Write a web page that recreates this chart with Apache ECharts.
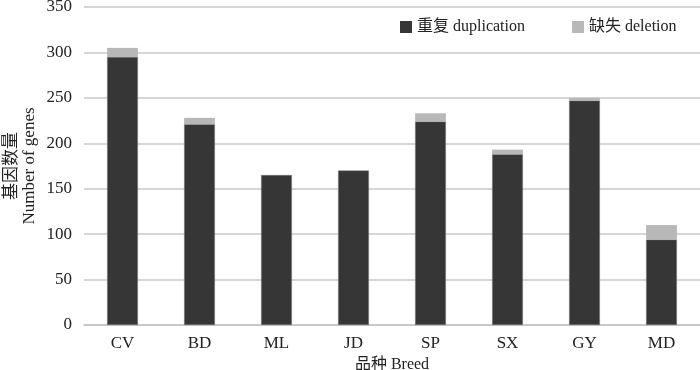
<!DOCTYPE html>
<html>
<head>
<meta charset="utf-8">
<script src="https://cdn.jsdelivr.net/npm/echarts@6/dist/echarts.min.js"></script>
<style>
  html, body { margin: 0; padding: 0; background: #fff; }
  #chart { width: 700px; height: 370px; }
</style>
</head>
<body>
<div id="chart"></div>
<script>
// 品种
const breeds = ['CV', 'BD', 'ML', 'JD', 'SP', 'SX', 'GY', 'MD'];
// 重复 duplication
const duplication = [295, 221, 165, 170, 224, 188, 247, 94];
// 缺失 deletion
const deletion = [10, 7, 0, 0, 9, 5, 3, 16];

const serif = '"Liberation Serif", "Noto Sans CJK SC", serif';

const myChart = echarts.init(document.getElementById('chart'));
myChart.setOption({
  animation: false,
  textStyle: { fontFamily: serif },
  grid: { left: 84, right: 0, top: 7, bottom: 45, containLabel: false, outerBoundsMode: 'none' },
  legend: {
    top: 14,
    left: 395,
    itemWidth: 12,
    itemHeight: 12,
    itemGap: 47,
    icon: 'rect',
    itemStyle: { borderWidth: 0 },
    textStyle: { fontFamily: serif, fontSize: 16, color: '#222' },
    data: ['重复 duplication', '缺失 deletion'],
  },
  xAxis: {
    type: 'category',
    data: breeds,
    name: '品种 Breed',
    nameLocation: 'middle',
    nameGap: 31,
    nameTextStyle: { fontFamily: serif, fontSize: 16, color: '#222' },
    axisLine: { lineStyle: { color: '#c4c4c4', width: 1.5 } },
    axisTick: { show: false },
    axisLabel: { fontFamily: serif, fontSize: 17, color: '#222', margin: 10 },
  },
  yAxis: {
    type: 'value',
    min: 0,
    max: 350,
    interval: 50,
    name: '基因数量\nNumber of genes',
    nameLocation: 'middle',
    nameGap: 45,
    nameMoveOverlap: false,
    nameTextStyle: { fontFamily: serif, fontSize: 17, color: '#222', lineHeight: 18 },
    axisLine: { show: false },
    axisTick: { show: false },
    axisLabel: { fontFamily: serif, fontSize: 17, color: '#222', margin: 12 },
    splitLine: { lineStyle: { color: '#c8c8c8', width: 1.5 } },
  },
  series: [
    {
      name: '重复 duplication',
      type: 'bar',
      stack: 'total',
      barWidth: '40%',
      itemStyle: { color: '#363636', borderColor: '#777', borderWidth: 0.5 },
      data: duplication,
    },
    {
      name: '缺失 deletion',
      type: 'bar',
      stack: 'total',
      barWidth: '40%',
      itemStyle: { color: '#b8b8b8' },
      data: deletion,
    },
  ],
});
</script>
</body>
</html>
